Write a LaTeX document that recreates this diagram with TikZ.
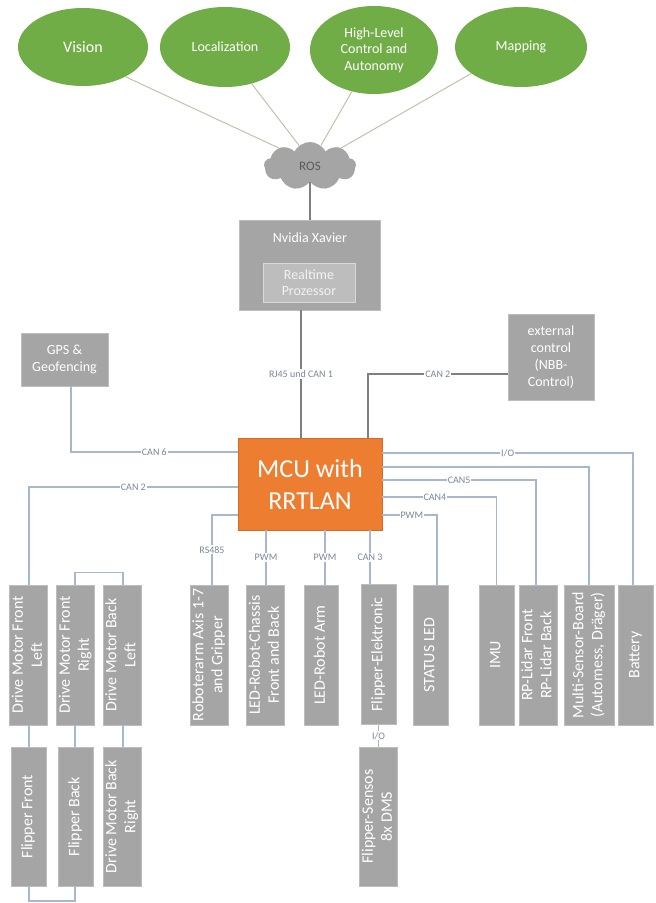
\documentclass[tikz,border=0pt]{standalone}
\usepackage{fontspec}
\setmainfont{Carlito}
\usetikzlibrary{shapes.geometric,shapes.symbols}
\definecolor{grn}{HTML}{70AD47}
\definecolor{boxg}{HTML}{A5A5A5}
\definecolor{boxe}{HTML}{BDBDBD}
\definecolor{innerg}{HTML}{BDBDBD}
\definecolor{inneredge}{HTML}{D9D9D9}
\definecolor{orng}{HTML}{ED7D31}
\definecolor{orngedge}{HTML}{D56A24}
\definecolor{tanl}{HTML}{C4C1AC}
\definecolor{darkl}{HTML}{7F7F7F}
\definecolor{bluel}{HTML}{A8B8CC}
\definecolor{lbl}{HTML}{7A8797}
\definecolor{rostext}{HTML}{595959}
\newcommand{\vlab}[1]{\rotatebox{90}{\begin{tabular}{@{}c@{}}#1\end{tabular}}}
\begin{document}
\begin{tikzpicture}[x=1pt,y=-1pt,
 ell/.style={ellipse, fill=grn, text=white, inner sep=0pt, align=center, font=\fontsize{14}{16.5}\selectfont},
 gbox/.style={rectangle, fill=boxg, draw=boxe, line width=0.6pt, text=white, inner sep=0pt, align=center, font=\fontsize{14}{17}\selectfont},
 vbox/.style={gbox, minimum width=35pt, minimum height=140pt, font=\fontsize{16}{19}\selectfont},
 lowbox/.style={vbox, minimum height=139pt},
 tanline/.style={draw=tanl, line width=1pt},
 darkline/.style={draw=darkl, line width=1.3pt},
 blueline/.style={draw=bluel, line width=1.3pt},
 lab/.style={fill=white, text=lbl, inner sep=1pt, font=\fontsize{10}{12}\selectfont},
]
\useasboundingbox[fill=white] (0,0) rectangle (656,903);

% top ellipses
\node[ell, minimum width=130pt, minimum height=78pt, font=\fontsize{16}{18}\selectfont] (vision) at (83,47) {Vision};
\node[ell, minimum width=130pt, minimum height=80pt] (loc) at (225,47) {Localization};
\node[ell, minimum width=128pt, minimum height=88pt] (hl) at (374,50) {High-Level\\Control and\\Autonomy};
\node[ell, minimum width=132pt, minimum height=80pt] (map) at (521,47) {Mapping};

% ROS cloud
\node[cloud, cloud puffs=9, cloud puff arc=125, aspect=2.1, fill=boxg, minimum width=92pt, minimum height=48pt, inner sep=0pt, text=rostext, font=\fontsize{13}{15}\selectfont] (ros) at (310,166) {ROS};

\draw[tanline] (vision.-35) -- (ros.150);
\draw[tanline] (loc.-54) -- (ros.118);
\draw[tanline] (hl.-118) -- (ros.62);
\draw[tanline] (map.-152) -- (ros.30);

% Xavier
\node[gbox, minimum width=141pt, minimum height=90pt] (xav) at (309.5,265) {};
\node[text=white, inner sep=0pt, font=\fontsize{14}{17}\selectfont] (xavt) at (310,238) {Nvidia Xavier};
\node[gbox, fill=innerg, draw=inneredge, text=white!95!black, minimum width=92pt, minimum height=39pt, font=\fontsize{14}{16}\selectfont] (rt) at (309,282.5) {Realtime\\Prozessor};
\draw[darkline] (ros.south) -- (ros.south |- xav.north);

% GPS and external control
\node[gbox, minimum width=87pt, minimum height=53pt] (gps) at (64.5,359.5) {GPS \&\\Geofencing};
\node[gbox, minimum width=86pt, minimum height=86pt] (ext) at (551,357) {external\\control\\(NBB-\\Control)};

% MCU
\node[rectangle, fill=orng, draw=orngedge, line width=0.6pt, minimum width=144pt, minimum height=92pt, text=white, align=center, inner sep=0pt, font=\fontsize{26}{32}\selectfont] (mcu) at (310,484) {MCU with\\RRTLAN};

% upper row of vertical boxes
\node[vbox] (dmfl) at (28.5,655) {\vlab{Drive Motor Front\\Left}};
\node[vbox] (dmfr) at (75.5,655) {\vlab{Drive Motor Front\\Right}};
\node[vbox, minimum width=36pt] (dmbl) at (122,655) {\vlab{Drive Motor Back\\Left}};
\node[vbox, minimum width=36pt] (robo) at (209,655) {\vlab{Roboterarm Axis 1-7\\and Gripper}};
\node[vbox] (ledc) at (265.5,655) {\vlab{LED-Robot-Chassis\\Front and Back}};
\node[vbox, minimum width=34pt] (leda) at (321,655) {\vlab{LED-Robot Arm}};
\node[vbox] (flip) at (378.5,654.5) {\vlab{Flipper-Elektronic}};
\node[vbox] (stat) at (430.5,655) {\vlab{STATUS LED}};
\node[vbox] (imu) at (496.5,655) {\vlab{IMU}};
\node[vbox, minimum width=36pt] (lidar) at (538,655) {\vlab{RP-Lidar Front\\RP-Lidar Back}};
\node[vbox, minimum width=50pt] (multi) at (589,655) {\vlab{Multi-Sensor-Board\\(Automess, Dr\"ager)}};
\node[vbox] (bat) at (635.5,655) {\vlab{Battery}};

% lower row
\node[lowbox] (ff) at (28.5,816.5) {\vlab{Flipper Front}};
\node[lowbox] (fb) at (75.5,816.5) {\vlab{Flipper Back}};
\node[lowbox, minimum width=36pt] (dmbr) at (122,816.5) {\vlab{Drive Motor Back\\Right}};
\node[lowbox] (fsens) at (378.5,816.5) {\vlab{Flipper-Sensos\\8x DMS}};

% dark connectors
\draw[darkline] (xav.south -| 301,0) -- node[lab]{RJ45 und CAN 1} (mcu.north -| 301,0);
\draw[darkline] (mcu.north -| 368,0) |- node[lab, pos=0.75]{CAN 2} (ext.west |- 0,374);

% light connectors left
\draw[blueline] (mcu.west |- 0,452) -| node[lab, pos=0.25]{CAN 6} (gps.south -| 71,0);
\draw[blueline] (mcu.west |- 0,487) -| node[lab, pos=0.25]{CAN 2} (dmfl.north -| 29,0);
\draw[blueline] (dmfr.north -| 75,0) -- ++(0,-12) -| (dmbl.north -| 123,0);
\draw[blueline] (mcu.west |- 0,515) -| node[lab, pos=0.75]{RS485} (robo.north -| 212,0);
\draw[blueline] (mcu.south -| 266,0) -- node[lab]{PWM} (ledc.north -| 266,0);
\draw[blueline] (mcu.south -| 325,0) -- node[lab]{PWM} (leda.north -| 325,0);
\draw[blueline] (mcu.south -| 370,0) -- node[lab]{CAN 3} (flip.north -| 370,0);

% light connectors right
\draw[blueline] (mcu.east |- 0,453) -| node[lab, pos=0.25]{I/O} (bat.north -| 633,0);
\draw[blueline] (mcu.east |- 0,467) -| (multi.north);
\draw[blueline] (mcu.east |- 0,480) -| node[lab, pos=0.25]{CAN5} (lidar.north -| 536,0);
\draw[blueline] (mcu.east |- 0,497) -| node[lab, pos=0.23]{CAN4} (imu.north);
\draw[blueline] (mcu.east |- 0,515) -| node[lab, pos=0.27]{PWM} (stat.north -| 437,0);

% between rows
\draw[blueline] (dmfl.south -| 29,0) -- (ff.north -| 29,0);
\draw[blueline] (dmfr.south -| 75,0) -- (fb.north -| 75,0);
\draw[blueline] (dmbl.south -| 123,0) -- (dmbr.north -| 123,0);
\draw[blueline] (flip.south) -- node[lab]{I/O} (fsens.north);

% bottom bracket
\coordinate (bl) at (29,901);
\coordinate (br) at (75,901);
\draw[blueline] (ff.south -| bl) -- (bl) -- (br) -- (fb.south -| br);
\end{tikzpicture}
\end{document}
